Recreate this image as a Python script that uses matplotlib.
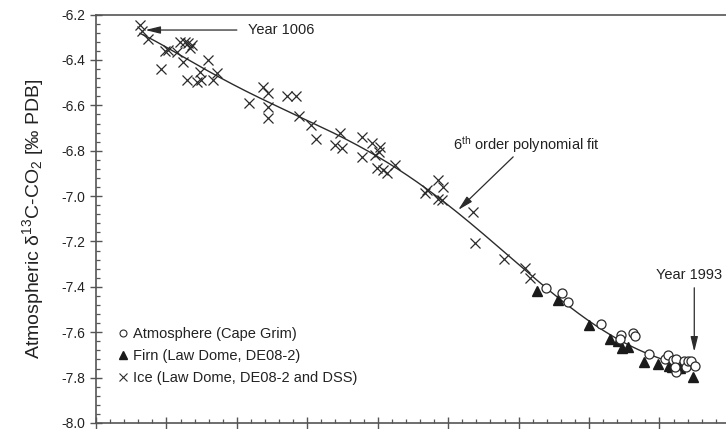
import numpy as np
import matplotlib
matplotlib.use("Agg")
import matplotlib.pyplot as plt
from matplotlib.lines import Line2D
from matplotlib.ticker import MultipleLocator, NullFormatter

plt.rcParams['font.family'] = ['Liberation Sans', 'DejaVu Sans']
plt.rcParams['mathtext.fontset'] = 'custom'
plt.rcParams['mathtext.rm'] = 'Liberation Sans'
plt.rcParams['mathtext.it'] = 'Liberation Sans:italic'

# ---- data (x in axis units; x tick labels are not visible in the reference) ----
ice_x = [0.625, 0.649, 0.743, 0.919, 0.980, 1.027, 1.146, 1.193, 1.232, 1.264,
         1.311, 1.335, 1.359, 1.288, 1.430, 1.477, 1.487, 1.595, 1.658, 1.714,
         2.178, 2.376, 2.447, 2.447, 2.447, 2.709, 2.841, 2.888, 3.050, 3.125,
         3.395, 3.466, 3.490, 3.774, 3.916, 4.034, 4.024, 3.774, 3.963, 3.987,
         4.081, 4.129, 4.247, 4.697, 4.673, 4.862, 4.933, 4.862, 4.910, 5.359,
         5.384, 5.786, 6.094, 6.165]
ice_y = [-6.246, -6.271, -6.309, -6.441, -6.359, -6.356, -6.363, -6.319, -6.410, -6.319,
         -6.326, -6.348, -6.334, -6.488, -6.496, -6.452, -6.488, -6.400, -6.488, -6.459,
         -6.591, -6.518, -6.547, -6.606, -6.657, -6.559, -6.559, -6.647, -6.686, -6.749,
         -6.774, -6.723, -6.789, -6.738, -6.767, -6.782, -6.804, -6.826, -6.819, -6.877,
         -6.885, -6.899, -6.863, -6.973, -6.987, -6.929, -6.958, -7.014, -7.017, -7.068,
         -7.207, -7.278, -7.318, -7.362]

firn_x = [6.257, 6.553, 6.996, 7.294, 7.408, 7.464, 7.554, 7.784, 7.980,
          8.132, 8.182, 8.224, 8.253, 8.295, 8.473]
firn_y = [-7.420, -7.457, -7.570, -7.630, -7.638, -7.669, -7.663, -7.730, -7.739,
          -7.748, -7.752, -7.739, -7.757, -7.759, -7.799]

atm_x = [6.385, 6.619, 6.697, 7.173, 7.453, 7.443, 7.628, 7.649, 7.858, 8.072,
         8.125, 8.189, 8.232, 8.241, 8.217, 8.345, 8.381, 8.409, 8.452, 8.509]
atm_y = [-7.406, -7.426, -7.467, -7.565, -7.614, -7.631, -7.604, -7.616, -7.696, -7.716,
         -7.700, -7.724, -7.719, -7.774, -7.751, -7.727, -7.751, -7.728, -7.727, -7.747]

ylabel = "Atmospheric δ$^{13}$C-CO$_2$ [‰ PDB]"
legend_labels = ["Atmosphere (Cape Grim)", "Firn (Law Dome, DE08-2)", "Ice (Law Dome, DE08-2 and DSS)"]

# ---- figure ----
W, H = 726, 429
fig = plt.figure(figsize=(W / 100, H / 100), dpi=100)
ax = fig.add_axes([96 / W, 6 / H, 648 / W, 408.4 / H])

col = '#2b2b2b'

# polynomial fit (6th order) through all the data
all_x = np.array(ice_x + firn_x + atm_x)
all_y = np.array(ice_y + firn_y + atm_y)
coef = np.polyfit(all_x, all_y, 6)
xf = np.linspace(all_x.min(), all_x.max(), 400)
ax.plot(xf, np.polyval(coef, xf), color=col, lw=1.0, zorder=2)

ax.plot(ice_x, ice_y, ls='none', marker='x', ms=7, mew=0.9, color=col, zorder=3)
ax.plot(firn_x, firn_y, ls='none', marker='^', ms=6.5, color='#1a1a1a', mec='#1a1a1a', zorder=3)
ax.plot(atm_x, atm_y, ls='none', marker='o', ms=6.5, mfc='white', mec=col, mew=0.9, zorder=4)

ax.set_xlim(0, 9.2)
ax.set_ylim(-8.0, -6.2)

ax.yaxis.set_major_locator(MultipleLocator(0.2))
ax.yaxis.set_minor_locator(MultipleLocator(0.04))
ax.xaxis.set_major_locator(MultipleLocator(1))
ax.xaxis.set_minor_locator(MultipleLocator(0.2))
ax.xaxis.set_major_formatter(NullFormatter())
ax.yaxis.set_major_formatter(plt.FuncFormatter(lambda v, p: f"{v:.1f}"))

ax.tick_params(axis='both', which='major', direction='inout', length=9, width=1.0,
               color='#555555', labelsize=10, labelcolor='#222222')
ax.tick_params(axis='both', which='minor', direction='in', length=3.2, width=0.9, color='#555555')
ax.tick_params(axis='y', which='major', pad=3)
ax.tick_params(axis='x', which='major', pad=2)

for s in ['left', 'bottom', 'top']:
    ax.spines[s].set_color('#555555')
    ax.spines[s].set_linewidth(1.2)
ax.spines['right'].set_visible(False)

ax.set_ylabel(ylabel, fontsize=14, color='#222222', labelpad=11)

# annotations
arrow_kw = dict(arrowstyle='-|>,head_length=0.9,head_width=0.22', color=col, lw=0.9,
                shrinkA=0, shrinkB=0, mutation_scale=10)
ax.annotate('', xy=(0.70, -6.268), xytext=(2.00, -6.268), arrowprops=arrow_kw)
ax.text(2.16, -6.268, "Year 1006", fontsize=10.5, color='#222222', ha='left', va='center')

ax.annotate('', xy=(5.142, -7.061), xytext=(5.923, -6.827), arrowprops=arrow_kw)
ax.text(5.07, -6.774, r"6$^{\rm th}$ order polynomial fit", fontsize=10.5, color='#222222',
        ha='left', va='center')

ax.annotate('', xy=(8.494, -7.686), xytext=(8.494, -7.404), arrowprops=arrow_kw)
ax.text(7.955, -7.347, "Year 1993", fontsize=10.5, color='#222222', ha='left', va='center')

# legend
handles = [
    Line2D([], [], ls='none', marker='o', ms=5, mfc='white', mec=col, mew=0.8),
    Line2D([], [], ls='none', marker='^', ms=5.5, color='#1a1a1a'),
    Line2D([], [], ls='none', marker='x', ms=5.5, mew=0.8, color=col),
]
leg = ax.legend(handles, legend_labels, loc='upper left', bbox_to_anchor=(0.035, 0.236),
                frameon=False, fontsize=10.5, handlelength=0.6, handletextpad=0.35,
                labelspacing=0.55, borderaxespad=0, borderpad=0)
for t in leg.get_texts():
    t.set_color('#222222')

fig.savefig('out.png', dpi=100)
